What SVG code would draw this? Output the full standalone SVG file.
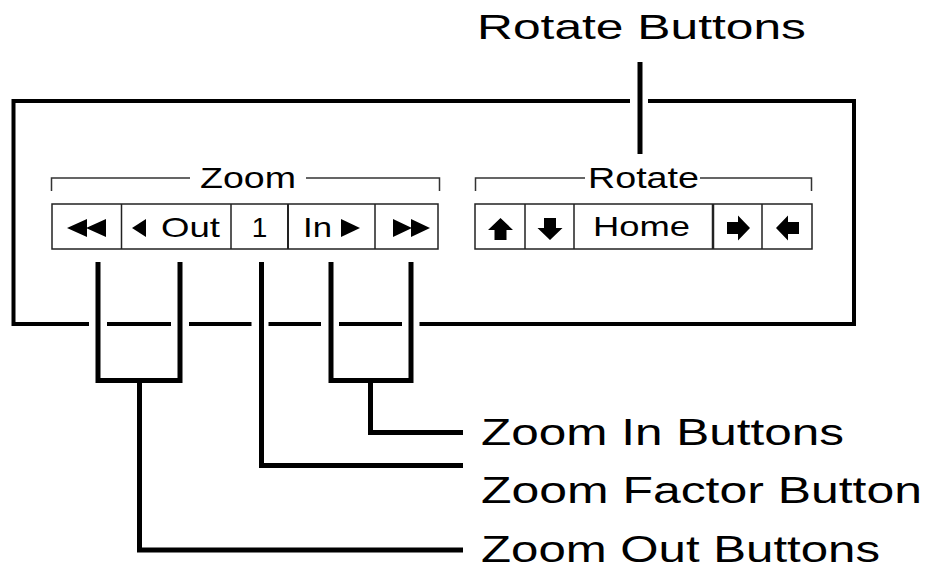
<svg xmlns="http://www.w3.org/2000/svg" width="927" height="569" viewBox="0 0 927 569">
<style>
  text { font-family: "Liberation Sans", Arial, sans-serif; fill: #000; }
  .lbl { font-size: 37px; }
  .hdr { font-size: 29px; }
  .btn { font-size: 28px; }
  .box { fill: #fff; stroke: #222; stroke-width: 1.5; }
  .div { stroke: #222; stroke-width: 1.5; fill: none; }
  .brk { stroke: #333; stroke-width: 1.5; fill: none; }
  .frame { stroke: #000; stroke-width: 4; fill: none; }
  .lead { stroke: #000; stroke-width: 5; fill: none; }
  .glyph { fill: #000; stroke: none; }
</style>
<rect width="927" height="569" fill="#fff"/>

<g id="frame">
  <path class="frame" d="M630,101 H13.5 V324 H89 M107,324 H171 M189,324 H251.5 M268.5,324 H321 M339,324 H402 M419.5,324 H854 V101 H648"/>
</g>

<g id="zoom-group">
  <path class="brk" d="M51.5,191 V178 H190 M306,178 H439.5 V191"/>
  <text class="hdr" x="200" y="188" textLength="96" lengthAdjust="spacingAndGlyphs">Zoom</text>
  <rect class="box" x="52" y="204" width="386" height="45"/>
  <path class="div" d="M121.5,204 V249 M231,204 V249 M375,204 V249"/>
  <path class="div" style="stroke-width:2" d="M288,204 V249"/>
  <g id="btn-zoom-out-fast">
    <path class="glyph" d="M67,228 L87,219 V237 Z M86,228 L106,219 V237 Z"/>
  </g>
  <g id="btn-zoom-out">
    <path class="glyph" d="M132,228 L146,219 V237 Z"/>
    <text class="btn" x="161" y="237" textLength="59" lengthAdjust="spacingAndGlyphs">Out</text>
  </g>
  <g id="btn-zoom-factor">
    <text class="btn" x="259.5" y="237" text-anchor="middle">1</text>
  </g>
  <g id="btn-zoom-in">
    <text class="btn" x="303" y="237" textLength="29" lengthAdjust="spacingAndGlyphs">In</text>
    <path class="glyph" d="M360,228 L341,219 V237 Z"/>
  </g>
  <g id="btn-zoom-in-fast">
    <path class="glyph" d="M412,228 L393,219 V237 Z M430,228 L411,219 V237 Z"/>
  </g>
</g>

<g id="rotate-group">
  <path class="brk" d="M475.5,191 V178 H585 M700,178 H811.5 V191"/>
  <text class="hdr" x="588" y="188" textLength="111" lengthAdjust="spacingAndGlyphs">Rotate</text>
  <rect class="box" x="475" y="204" width="337" height="45"/>
  <path class="div" d="M525,204 V249 M574,204 V249 M762,204 V249"/>
  <path class="div" style="stroke-width:2.5" d="M713,204 V249"/>
  <g id="btn-rot-up">
    <path class="glyph" d="M500.5,218 L513,230 H506.5 V240 H494.5 V230 H488 Z"/>
  </g>
  <g id="btn-rot-down">
    <path class="glyph" d="M550,240 L537.5,228 H544 V218 H556 V228 H562.5 Z"/>
  </g>
  <g id="btn-rot-home">
    <text class="btn" x="593" y="236" textLength="97" lengthAdjust="spacingAndGlyphs">Home</text>
  </g>
  <g id="btn-rot-right">
    <path class="glyph" d="M750,228 L738,215.5 V222 H727 V234 H738 V240.5 Z"/>
  </g>
  <g id="btn-rot-left">
    <path class="glyph" d="M776,228 L788,215.5 V222 H799 V234 H788 V240.5 Z"/>
  </g>
</g>

<g id="label-rotate-buttons">
  <text class="lbl" style="font-size:35px" x="477" y="39" textLength="329" lengthAdjust="spacingAndGlyphs">Rotate Buttons</text>
</g>
<g id="label-zoom-in">
  <text class="lbl" x="481" y="445" textLength="363" lengthAdjust="spacingAndGlyphs">Zoom In Buttons</text>
</g>
<g id="label-zoom-factor">
  <text class="lbl" x="481" y="503" textLength="441" lengthAdjust="spacingAndGlyphs">Zoom Factor Button</text>
</g>
<g id="label-zoom-out">
  <text class="lbl" x="481" y="562" textLength="399" lengthAdjust="spacingAndGlyphs">Zoom Out Buttons</text>
</g>

<g id="connectors">
  <path class="lead" d="M640,62 V154"/>
  <path class="lead" d="M98,262 V380.5 H180 V262"/>
  <path class="lead" d="M139.5,380.5 V550 H463"/>
  <path class="lead" d="M261.5,262 V465.5 H463"/>
  <path class="lead" d="M331,262 V380.5 H411 V262"/>
  <path class="lead" d="M370.5,380.5 V432.5 H463"/>
</g>
</svg>
